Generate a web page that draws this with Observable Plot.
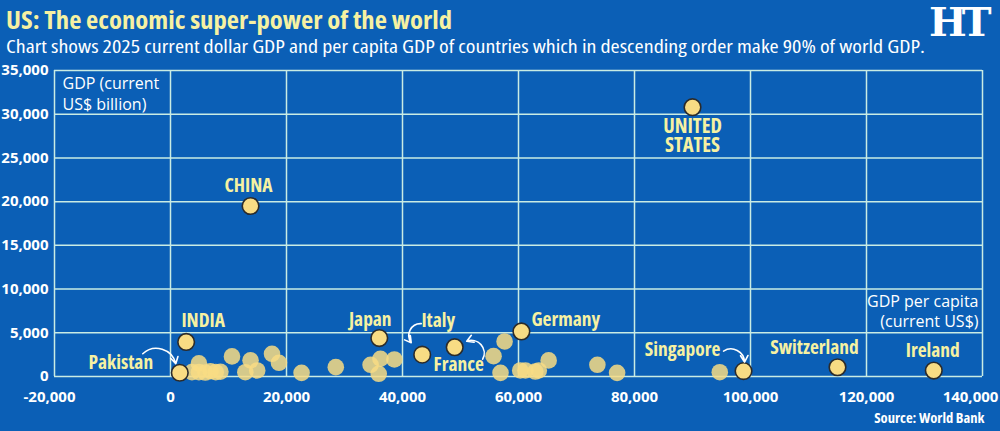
<!DOCTYPE html>
<html><head><meta charset="utf-8">
<script src="https://cdn.jsdelivr.net/npm/d3@7"></script>
<script src="https://cdn.jsdelivr.net/npm/@observablehq/plot@0.6"></script>
<style>
html,body{margin:0;padding:0;background:#0b5fb6;width:1000px;height:431px;overflow:hidden;}
#head{position:relative;height:58px;}
#title{position:absolute;left:6px;top:2px;font-size:25px;font-weight:bold;color:#f6f1a2;white-space:nowrap;transform-origin:0 0;}
#sub{position:absolute;left:6px;top:34px;font-size:18px;color:#fff;white-space:nowrap;transform-origin:0 0;}
#logo{position:absolute;left:929px;top:-2px;font-family:"DejaVu Serif",serif;font-weight:bold;font-size:40px;color:#fff;letter-spacing:-5px;}
#chart svg{display:block;}
</style></head>
<body>
<div id="head">
  <div id="title">US: The economic super-power of the world</div>
  <div id="sub">Chart shows 2025 current dollar GDP and per capita GDP of countries which in descending order make 90% of world GDP.</div>
  <div id="logo">HT</div>
</div>
<div id="chart"></div>
<script>
// ---- data ----
const names = ["United States","China","Germany","Japan","India","Italy","France","Pakistan","Singapore","Switzerland","Ireland",
  "","","","","","","","","","","","","","","","","","","","","","","","","","","","","",""];
const perCapita = [90000,13800,60500,36000,2700,43400,49000,1600,98800,115000,131600,
  4900,3700,4900,6000,6900,7800,8600,10600,13800,12900,14950,17500,18700,22600,28500,34500,36200,35900,38600,
  55700,57600,56900,60300,61200,62900,63500,65200,73600,77000,94700];
const gdp = [30800,19500,5150,4400,3950,2500,3350,430,620,1060,680,
  1500,500,500,450,600,500,550,2300,1850,490,690,2600,1570,420,1070,1340,2030,310,1950,
  2330,4010,420,690,690,570,690,1840,1340,420,490];
const xTicks = [-20000,0,20000,40000,60000,80000,100000,120000,140000];
const xTickLabels = ["-20,000","0","20,000","40,000","60,000","80,000","100,000","120,000","140,000"];
const yTicks = [0,5000,10000,15000,20000,25000,30000,35000];
const yTickLabels = ["0","5,000","10,000","15,000","20,000","25,000","30,000","35,000"];
const yTitle = "GDP (current\nUS$ billion)";
const xTitle = "GDP per capita\n(current US$)";

// ---- pick a condensed face if one is available ----
function measure(fam, stretch){
  const s=document.createElement("span");
  s.style.cssText=`position:absolute;visibility:hidden;white-space:nowrap;font-size:20px;font-weight:bold;font-family:${fam};font-stretch:${stretch}`;
  s.textContent="Chart shows 2025 current dollar GDP";
  document.body.appendChild(s); const w=s.getBoundingClientRect().width; s.remove(); return w;
}
let FAM='Roboto', FONT='Roboto, sans-serif', STRETCH="100%", K=1, condensed=false;
for (const [fam,st] of [['"Open Sans"',"75%"],['"Noto Sans"',"62.5%"],['"Noto Sans"',"75%"]]) {
  if (measure(fam,st) < 0.9*measure(fam,"100%")) { FAM=fam; FONT=fam+", sans-serif"; STRETCH=st; condensed=true; break; }
}
if (condensed) K=1.08;
for (const id of ["title","sub"]) {
  const el=document.getElementById(id); el.style.fontFamily=FONT; el.style.fontStretch=STRETCH;
}
function fit(id, target){ const el=document.getElementById(id); const w=el.getBoundingClientRect().width; el.style.transform=`scaleX(${target/w})`; }
fit("title",446); fit("sub",919);

// ---- annotation styling (pixel offsets) ----
const labelStyle = [
  {name:"United States", text:"UNITED\nSTATES", dx:0, dy:29, size:19, anchor:"middle"},
  {name:"China", text:"CHINA", dx:-2, dy:-20, size:18, anchor:"middle"},
  {name:"India", text:"INDIA", dx:17, dy:-21, size:18, anchor:"middle"},
  {name:"Pakistan", text:"Pakistan", dx:-59, dy:-10, size:18, anchor:"middle"},
  {name:"Japan", text:"Japan", dx:-9, dy:-18, size:18, anchor:"middle"},
  {name:"Italy", text:"Italy", dx:16, dy:-34, size:18, anchor:"middle"},
  {name:"France", text:"France", dx:4, dy:18, size:18, anchor:"middle"},
  {name:"Germany", text:"Germany", dx:10, dy:-11, size:18, anchor:"start"},
  {name:"Singapore", text:"Singapore", dx:-61, dy:-21, size:18, anchor:"middle"},
  {name:"Switzerland", text:"Switzerland", dx:-23, dy:-19, size:18, anchor:"middle"},
  {name:"Ireland", text:"Ireland", dx:-1, dy:-19, size:18, anchor:"middle"}
];
const arrowStyle = [
  {name:"Pakistan", sx:-37, sy:-19, ex:-4, ey:-9, bend:60},
  {name:"Italy", sx:-1, sy:-31, ex:-11, ey:-12, bend:-65},
  {name:"France", sx:28, sy:12, ex:12, ey:-6, bend:-70},
  {name:"Singapore", sx:-20, sy:-20, ex:1, ey:-9, bend:60}
];

const rows = names.map((n,i)=>({name:n, pc:perCapita[i], gdp:gdp[i]}));
const labeled = rows.filter(d=>d.name!=="");
const others = rows.filter(d=>d.name==="");
const byName = new Map(rows.map(d=>[d.name,d]));

const W=1000, H=373, mL=54, mR=18, mT=12, mB=55;
const xDomain=[-20000,140000], yDomain=[0,35000];
const sx = Plot.scale({x:{domain:xDomain, range:[mL, W-mR]}});
const sy = Plot.scale({y:{domain:yDomain, range:[H-mB, mT]}});

const arrows = arrowStyle.map(a=>{
  const d = byName.get(a.name);
  const px = sx.apply(d.pc), py = sy.apply(d.gdp);
  return {x1:sx.invert(px+a.sx), y1:sy.invert(py+a.sy), x2:sx.invert(px+a.ex), y2:sy.invert(py+a.ey), bend:a.bend};
});

const grid = "#c9ece4", yellow="#f6f1a2", dotFill="#f8dc84";
const axisOpts = {tickSize:0, fontSize:15, fontWeight:"bold", fill:"#fff", label:null};
const xFmt = (d)=>xTickLabels[xTicks.indexOf(d)];
const yFmt = (d)=>yTickLabels[yTicks.indexOf(d)];

const plot = Plot.plot({
  width:W, height:H, marginLeft:mL, marginRight:mR, marginTop:mT, marginBottom:mB,
  style:{background:"transparent", color:"#fff", fontFamily:FONT, fontStretch:STRETCH, overflow:"visible"},
  x:{domain:xDomain, label:null},
  y:{domain:yDomain, label:null},
  marks:[
    Plot.gridX(xTicks,{stroke:grid, strokeOpacity:1, strokeWidth:1.5}),
    Plot.gridY(yTicks,{stroke:grid, strokeOpacity:1, strokeWidth:1.5}),
    Plot.axisX(xTicks.slice(1,-1),{...axisOpts, tickPadding:15, tickFormat:xFmt}),
    Plot.axisX(xTicks.slice(0,1),{...axisOpts, tickPadding:15, tickFormat:xFmt, dx:-5}),
    Plot.axisX(xTicks.slice(-1),{...axisOpts, tickPadding:15, tickFormat:xFmt, dx:-12}),
    Plot.axisY(yTicks,{...axisOpts, tickPadding:6, tickFormat:yFmt}),
    Plot.dot(others,{x:"pc", y:"gdp", r:8.3, fill:dotFill, fillOpacity:0.85, stroke:"none"}),
    Plot.dot(labeled,{x:"pc", y:"gdp", r:8.3, fill:dotFill, stroke:"#2b2b2b", strokeWidth:1.6}),
    ...labelStyle.map(l=>{
      const d = byName.get(l.name);
      return Plot.text([d],{x:"pc", y:"gdp", text:()=>l.text, dx:l.dx, dy:l.dy, fontSize:l.size*K,
        fontWeight:"bold", fill:yellow, textAnchor:l.anchor, lineHeight:1.03/K});
    }),
    ...arrows.map(a=>Plot.arrow([a],{x1:"x1", y1:"y1", x2:"x2", y2:"y2", bend:a.bend, stroke:"#fff",
      strokeWidth:1.6, headLength:7})),
    Plot.text([yTitle],{frameAnchor:"top-left", dx:8, dy:3, lineAnchor:"top",
      textAnchor:"start", fontSize:16, fill:"#fff", lineHeight:1.32}),
    Plot.text([xTitle],{frameAnchor:"bottom-right", dx:-4, dy:-50, lineAnchor:"bottom",
      textAnchor:"end", fontSize:16, fill:"#fff", lineHeight:1.25}),
    Plot.text(["Source: World Bank"],{frameAnchor:"bottom-right", dx:2, dy:42, lineAnchor:"middle",
      textAnchor:"end", fontSize:13.5*K, fontWeight:"bold", fill:"#fff"})
  ]
});
// axis texts use the normal-width face, as in the reference
const wide = new Set([...xTickLabels, ...yTickLabels, ...yTitle.split("\n"), ...xTitle.split("\n"), yTitle.replace("\n",""), xTitle.replace("\n","")]);
plot.querySelectorAll("text").forEach(t=>{
  if (wide.has(t.textContent)) t.setAttribute("style", "font-stretch:100%");
});
document.getElementById("chart").appendChild(plot);
</script>
</body></html>
